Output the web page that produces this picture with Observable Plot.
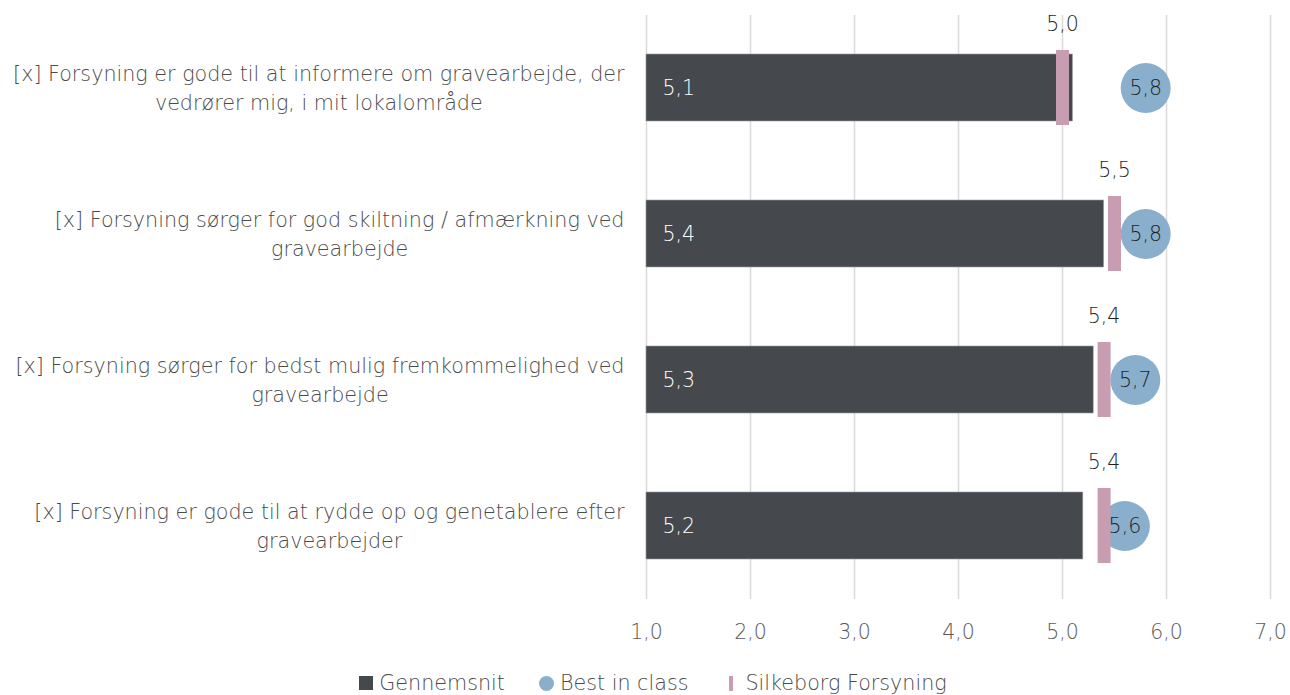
<!DOCTYPE html>
<html>
<head>
<meta charset="utf-8">
<script src="https://cdn.jsdelivr.net/npm/d3@7"></script>
<script src="https://cdn.jsdelivr.net/npm/@observablehq/plot@0.6"></script>
<style>
  html, body { margin: 0; padding: 0; background: #fff; }
  body { width: 1290px; height: 695px; overflow: hidden; font-family: "DejaVu Sans", sans-serif; font-weight: 200; }
  #legend { display: flex; justify-content: center; align-items: center; gap: 34px; height: 30px; font-size: 20.7px; color: #4a4a4a; margin-top: 3px; margin-left: 16px; }
  .item { display: flex; align-items: center; gap: 6px; }
  .sq { width: 14px; height: 14px; background: #45494D; display: inline-block; }
  .ci { width: 15px; height: 15px; border-radius: 50%; background: #8AAFCD; display: inline-block; }
  .ln { width: 4px; height: 15px; background: #C99DB1; display: inline-block; margin-right: 6px; margin-left: 7px; }
</style>
</head>
<body>
<div id="chart"></div>
<div id="legend"></div>
<script>
const categories = [
  "[x] Forsyning er gode til at informere om gravearbejde, der\nvedrører mig, i mit lokalområde",
  "[x] Forsyning sørger for god skiltning / afmærkning ved\ngravearbejde",
  "[x] Forsyning sørger for bedst mulig fremkommelighed ved\ngravearbejde",
  "[x] Forsyning er gode til at rydde op og genetablere efter\ngravearbejder"
];
const gennemsnit = [5.1, 5.4, 5.3, 5.2];
const bestInClass = [5.8, 5.8, 5.7, 5.6];
const silkeborg = [5.0, 5.5, 5.4, 5.4];
const xTicks = [1, 2, 3, 4, 5, 6, 7];
const seriesNames = ["Gennemsnit", "Best in class", "Silkeborg Forsyning"];

const data = categories.map((c, i) => ({
  cat: c, origin: 1, avg: gennemsnit[i], best: bestInClass[i], silk: silkeborg[i]
}));
const fmt = v => v.toFixed(1).replace(".", ",");
const FONT = "'DejaVu Sans', sans-serif";

const chart = Plot.plot({
  width: 1290,
  height: 665,
  marginLeft: 646,
  marginRight: 20,
  marginTop: 15,
  marginBottom: 66,
  style: { fontFamily: FONT, fontWeight: 200, fontSize: "20px", color: "#4a4a4a", background: "#fff" },
  x: { domain: [1, 7], ticks: xTicks, tickFormat: fmt, label: null },
  y: { domain: categories, paddingInner: 0.54, paddingOuter: 0.27, label: null },
  marks: [
    Plot.gridX(xTicks, { stroke: "#d9d9d9", strokeOpacity: 1, strokeWidth: 1.5 }),
    Plot.axisX({ ticks: xTicks, tickFormat: fmt, tickSize: 0, tickPadding: 25, fill: "#595959", fontSize: 20.5 }),
    Plot.axisY({ tickSize: 0, tickPadding: 22, fill: "#4a4a4a", fontSize: 20.7, lineHeight: 1.4, textAnchor: "end", dy: -2 }),
    Plot.barX(data, { y: "cat", x1: "origin", x2: "avg", fill: "#45494D", stroke: "#9a9c9e", strokeWidth: 0.6 }),
    Plot.dot(data, { y: "cat", x: "best", r: 25, fill: "#8AAFCD" }),
    Plot.tickX(data, { y: "cat", x: "silk", stroke: "#C99DB1", strokeWidth: 13, insetTop: -4, insetBottom: -4 }),
    Plot.text(data, { y: "cat", x: "origin", text: d => fmt(d.avg), textAnchor: "start", dx: 16, fill: "#ffffff", fontSize: 20.5 }),
    Plot.text(data, { y: "cat", x: "best", text: d => fmt(d.best), fill: "#1f1f1f", fontSize: 20.5 }),
    Plot.text(data, { y: "cat", x: "silk", text: d => fmt(d.silk), dy: -64, fill: "#1f1f1f", fontSize: 20.5 })
  ]
});
document.getElementById("chart").appendChild(chart);

// center the lines of each multi-line y label within its right-aligned block
chart.querySelectorAll('g[aria-label="y-axis tick label"] text').forEach(t => {
  const spans = t.querySelectorAll("tspan");
  if (!spans.length) return;
  let w = 0;
  spans.forEach(s => { w = Math.max(w, s.getComputedTextLength()); });
  t.setAttribute("text-anchor", "middle");
  const tr = t.getAttribute("transform") || "";
  t.setAttribute("transform", tr + ` translate(${-w / 2},0)`);
});

const legend = document.getElementById("legend");
const swatchCls = ["sq", "ci", "ln"];
seriesNames.forEach((n, i) => {
  const it = document.createElement("span");
  it.className = "item";
  const sw = document.createElement("span");
  sw.className = swatchCls[i];
  it.appendChild(sw);
  const t = document.createElement("span");
  t.textContent = n;
  it.appendChild(t);
  legend.appendChild(it);
});
</script>
</body>
</html>
